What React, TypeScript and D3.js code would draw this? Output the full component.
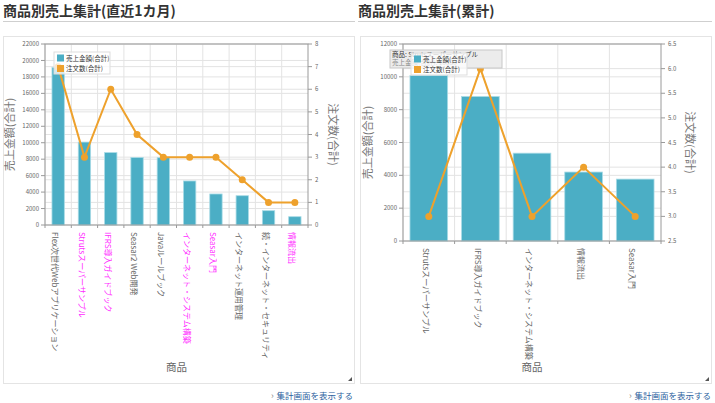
import React from 'react';
import * as d3 from 'd3';

// 直近1カ月
const monthItems = [
  'Flex次世代Webアプリケーション',
  'Strutsスーパーサンプル',
  'IFRS導入ガイドブック',
  'Seasar2 Web開発',
  'Javaルールブック',
  'インターネット・システム構築',
  'Seasar入門',
  'インターネット運用管理',
  '続・インターネット・セキュリティ',
  '情報流出'
];
const monthSales = [19150, 10080, 8800, 8200, 8180, 5350, 3770, 3560, 1740, 1010];
const monthOrders = [7, 3, 6, 4, 3, 3, 3, 2, 1, 1];
const monthPink = [false, true, true, false, false, true, true, false, false, true];

// 累計
const totalItems = [
  'Strutsスーパーサンプル',
  'IFRS導入ガイドブック',
  'インターネット・システム構築',
  '情報流出',
  'Seasar入門'
];
const totalSales = [10080, 8800, 5350, 4200, 3770];
const totalOrders = [3, 6, 3, 4, 3];

const leftTicks = d3.range(0, 22001, 2000);
const rightTicks = d3.range(0, 9, 1);
const totalLeftTicks = d3.range(0, 12001, 2000);
const totalRightTicks = d3.range(2.5, 6.51, 0.5);

const TEAL = '#4baec5';
const ORANGE = '#eea12c';
const GRID = '#e3e3e3';
const FONT = '"Noto Sans CJK JP", "Noto Sans", sans-serif';

type ChartProps = {
  box: { x: number; y: number; w: number; h: number };
  plot: { l: number; t: number; r: number; b: number };
  items: string[];
  sales: number[];
  orders: number[];
  pink?: boolean[];
  salesTicks: number[];
  orderTicks: number[];
  orderFmt: (v: number) => string;
  barRatio: number;
  yLabelX: number;
  y2LabelX: number;
  children?: React.ReactNode;
};

function Chart(p: ChartProps) {
  const { plot } = p;
  const x = d3.scaleBand<string>().domain(p.items).range([plot.l, plot.r]);
  const y = d3
    .scaleLinear()
    .domain(d3.extent(p.salesTicks) as [number, number])
    .range([plot.b, plot.t]);
  const y2 = d3
    .scaleLinear()
    .domain(d3.extent(p.orderTicks) as [number, number])
    .range([plot.b, plot.t]);
  const cx = (d: string) => (x(d) as number) + x.bandwidth() / 2;
  const bw = x.bandwidth() * p.barRatio;

  const line = d3
    .line<number>()
    .x((_, i) => cx(p.items[i]))
    .y(d => y2(d));

  const midY = (plot.t + plot.b) / 2;

  return (
    <g>
      <rect x={p.box.x + 0.5} y={p.box.y + 0.5} width={p.box.w} height={p.box.h} fill="#fff" stroke="#e4e4e4" />
      {/* grid */}
      {p.salesTicks.map(t => (
        <line key={'g' + t} x1={plot.l} x2={plot.r} y1={y(t)} y2={y(t)} stroke={GRID} />
      ))}
      {p.orderTicks.map(t => (
        <line key={'h' + t} x1={plot.l} x2={plot.r} y1={y2(t)} y2={y2(t)} stroke={GRID} />
      ))}
      {p.items.map(d => (
        <line key={'v' + d} x1={x(d)} x2={x(d)} y1={plot.t} y2={plot.b} stroke={GRID} />
      ))}
      {/* bars */}
      {p.items.map((d, i) => (
        <rect
          key={'b' + d}
          x={cx(d) - bw / 2}
          y={y(p.sales[i])}
          width={bw}
          height={plot.b - y(p.sales[i])}
          fill={TEAL}
          stroke="#a8dbe6"
          strokeWidth={0.8}
        />
      ))}
      {/* frame */}
      <rect x={plot.l} y={plot.t} width={plot.r - plot.l} height={plot.b - plot.t} fill="none" stroke="#9a9a9a" />
      {/* left axis */}
      {p.salesTicks.map(t => (
        <g key={'lt' + t}>
          <line x1={plot.l - 4} x2={plot.l} y1={y(t)} y2={y(t)} stroke="#9a9a9a" />
          <text x={plot.l - 6} y={y(t)} dy="0.35em" textAnchor="end" fontSize={6} fill="#666">
            {t}
          </text>
        </g>
      ))}
      {/* right axis */}
      {p.orderTicks.map(t => (
        <g key={'rt' + t}>
          <line x1={plot.r} x2={plot.r + 4} y1={y2(t)} y2={y2(t)} stroke="#9a9a9a" />
          <text x={plot.r + 7} y={y2(t)} dy="0.35em" fontSize={6} fill="#666">
            {p.orderFmt(t)}
          </text>
        </g>
      ))}
      {/* bottom ticks */}
      {p.items.map(d => (
        <line key={'bt' + d} x1={x(d)} x2={x(d)} y1={plot.b} y2={plot.b + 3} stroke="#9a9a9a" />
      ))}
      <line x1={plot.r} x2={plot.r} y1={plot.b} y2={plot.b + 3} stroke="#9a9a9a" />
      {/* line series */}
      <path d={line(p.orders) || ''} fill="none" stroke={ORANGE} strokeWidth={2} />
      {p.orders.map((o, i) => (
        <circle key={'c' + i} cx={cx(p.items[i])} cy={y2(o)} r={3.5} fill={ORANGE} />
      ))}
      {/* x labels */}
      {p.items.map((d, i) => (
        <text
          key={'xl' + d}
          transform={`translate(${cx(d) - 3},${plot.b + 7}) rotate(90)`}
          fontSize={8}
          dy="0.35em"
          fill={p.pink && p.pink[i] ? '#ff2bff' : '#666'}
        >
          {d}
        </text>
      ))}
      {/* axis titles */}
      <text
        transform={`translate(${p.yLabelX},${midY}) rotate(-90)`}
        textAnchor="middle"
        fontSize={11}
        fill="#777"
      >
        売上金額(合計)
      </text>
      <text
        transform={`translate(${p.y2LabelX},${midY}) rotate(90)`}
        textAnchor="middle"
        fontSize={11}
        fill="#777"
      >
        注文数(合計)
      </text>
      <text x={(plot.l + plot.r) / 2} y={371} textAnchor="middle" fontSize={10.5} fill="#666">
        商品
      </text>
      {p.children}
      {/* resize grip */}
      <path
        d={`M${p.box.x + p.box.w - 6},${p.box.y + p.box.h - 2}L${p.box.x + p.box.w - 2},${p.box.y + p.box.h - 6}L${p.box.x + p.box.w - 2},${p.box.y + p.box.h - 2}Z`}
        fill="#555"
      />
    </g>
  );
}

function Legend({ x, y }: { x: number; y: number }) {
  return (
    <g>
      <rect x={x} y={y} width={56} height={22} fill="#fff" fillOpacity={0.75} stroke="#ddd" />
      <rect x={x + 3} y={y + 2.5} width={7} height={7} fill={TEAL} />
      <text x={x + 12} y={y + 8.5} fontSize={6.5} fill="#333">
        売上金額(合計)
      </text>
      <rect x={x + 3} y={y + 13} width={7} height={7} fill={ORANGE} />
      <text x={x + 12} y={y + 19} fontSize={6.5} fill="#333">
        注文数(合計)
      </text>
    </g>
  );
}

function Header({ x, w, title }: { x: number; w: number; title: string }) {
  return (
    <g>
      <text x={x} y={16} fontSize={14} fontWeight="bold" fill="#333">
        {title}
      </text>
      <line x1={x} x2={x + w} y1={21.5} y2={21.5} stroke="#cfcfcf" />
    </g>
  );
}

function Link({ right }: { right: number }) {
  return (
    <g>
      <text x={right - 82} y={399} fontSize={9} fill="#888">
        ›
      </text>
      <text x={right} y={399} textAnchor="end" fontSize={8.5} fill="#2c5f9e">
        集計画面を表示する
      </text>
    </g>
  );
}

export default function App() {
  return (
    <svg
      width={715}
      height={403}
      style={{ position: 'fixed', left: 0, top: 0, fontFamily: FONT, background: '#fff' }}
    >
      <rect width={715} height={403} fill="#fff" />
      <Header x={3} w={352} title="商品別売上集計(直近1カ月)" />
      <Header x={358} w={354} title="商品別売上集計(累計)" />
      <Chart
        box={{ x: 3, y: 36, w: 351, h: 347 }}
        plot={{ l: 45, t: 44, r: 308, b: 225 }}
        items={monthItems}
        sales={monthSales}
        orders={monthOrders}
        pink={monthPink}
        salesTicks={leftTicks}
        orderTicks={rightTicks}
        orderFmt={v => String(v)}
        barRatio={0.47}
        yLabelX={14}
        y2LabelX={329}
      >
        <Legend x={54} y={52} />
      </Chart>
      <Chart
        box={{ x: 360, y: 36, w: 351, h: 347 }}
        plot={{ l: 403, t: 44, r: 661, b: 241 }}
        items={totalItems}
        sales={totalSales}
        orders={totalOrders}
        salesTicks={totalLeftTicks}
        orderTicks={totalRightTicks}
        orderFmt={v => d3.format('.1f')(v)}
        barRatio={0.73}
        yLabelX={372}
        y2LabelX={686}
      >
        <g>
          <rect x={390} y={50} width={112} height={18} fill="#ececec" stroke="#c8c8c8" />
          <text x={392} y={57} fontSize={6.5} fill="#333">
            商品: Strutsスーパーサンプル
          </text>
          <text x={392} y={65} fontSize={6.5} fill="#888">
            売上金額(合計): 10080
          </text>
        </g>
        <Legend x={411} y={53} />
      </Chart>
      <Link right={353} />
      <Link right={711} />
    </svg>
  );
}
